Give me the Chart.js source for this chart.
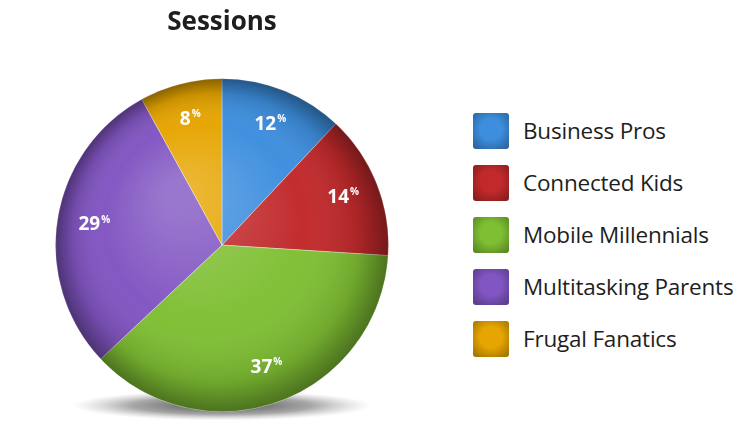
<!DOCTYPE html>
<html>
<head>
<meta charset="utf-8">
<script src="https://cdn.jsdelivr.net/npm/chart.js@4/dist/chart.umd.min.js"></script>
<style>
  body { margin: 0; background: #fff; width: 742px; height: 436px; overflow: hidden; position: relative; }
  #wrap { position: absolute; left: 0; top: 0; width: 444px; height: 436px; }
  #legend { position: absolute; left: 473px; top: 113px; font-family: "Open Sans", sans-serif; }
  .row { height: 52px; display: flex; align-items: flex-start; }
  .box { width: 36px; height: 36px; border-radius: 3px; box-sizing: border-box; }
  .txt { margin-left: 14px; font-size: 22.5px; line-height: 36px; color: #1e1e1e; letter-spacing: -0.2px; }
</style>
</head>
<body>
<div id="wrap"><canvas id="myChart" width="444" height="436"></canvas></div>
<div id="legend"></div>
<script>
let labels = ['Business Pros', 'Connected Kids', 'Mobile Millennials', 'Multitasking Parents', 'Frugal Fanatics'];
let values = [12, 14, 37, 29, 8];
let colors = ['#3d8ede', '#c1292b', '#7fbf33', '#8155c2', '#e6a500'];

// legend on the right
let legend = document.getElementById('legend');
labels.forEach(function (l, i) {
    let row = document.createElement('div');
    row.className = 'row';
    row.innerHTML = '<div class="box" style="background: radial-gradient(circle at 50% 45%, ' + colors[i] +
        ' 40%, rgba(0,0,0,0.4) 110%), ' + colors[i] + ';"></div><div class="txt">' + l + '</div>';
    legend.appendChild(row);
});

// soft shadow under the pie
let shadow = {
    id: 'shadow',
    beforeDatasetsDraw(chart) {
        let arc = chart.getDatasetMeta(0).data[0];
        let ctx = chart.ctx;
        ctx.save();
        ctx.translate(arc.x, arc.y + arc.outerRadius - 6);
        ctx.scale(1, 0.1);
        let g = ctx.createRadialGradient(0, 0, 0, 0, 0, arc.outerRadius * 0.9);
        g.addColorStop(0, 'rgba(40,40,40,0.85)');
        g.addColorStop(0.6, 'rgba(80,80,80,0.5)');
        g.addColorStop(1, 'rgba(150,150,150,0)');
        ctx.fillStyle = g;
        ctx.beginPath();
        ctx.arc(0, 0, arc.outerRadius * 0.9, 0, Math.PI * 2);
        ctx.fill();
        ctx.restore();
    }
};

// glossy shading + percent labels
let gloss = {
    id: 'gloss',
    afterDatasetsDraw(chart) {
        let meta = chart.getDatasetMeta(0);
        let arc = meta.data[0];
        let ctx = chart.ctx;
        let R = arc.outerRadius;
        ctx.save();
        let g = ctx.createRadialGradient(arc.x - R * 0.25, arc.y - R * 0.3, R * 0.1, arc.x, arc.y, R);
        g.addColorStop(0, 'rgba(255,255,255,0.2)');
        g.addColorStop(0.55, 'rgba(255,255,255,0.02)');
        g.addColorStop(0.85, 'rgba(0,0,0,0.12)');
        g.addColorStop(1, 'rgba(0,0,0,0.4)');
        ctx.fillStyle = g;
        ctx.beginPath();
        ctx.arc(arc.x, arc.y, R, 0, Math.PI * 2);
        ctx.fill();

        ctx.fillStyle = '#fff';
        ctx.textBaseline = 'middle';
        meta.data.forEach(function (el, i) {
            let mid = (el.startAngle + el.endAngle) / 2;
            let x = el.x + Math.cos(mid) * R * 0.78;
            let y = el.y + Math.sin(mid) * R * 0.78;
            let big = String(values[i]);
            ctx.font = 'bold 19px "Open Sans", sans-serif';
            let w1 = ctx.measureText(big).width;
            ctx.font = 'bold 10px "Open Sans", sans-serif';
            let w2 = ctx.measureText('%').width;
            let x0 = x - (w1 + w2) / 2;
            ctx.font = 'bold 19px "Open Sans", sans-serif';
            ctx.textAlign = 'left';
            ctx.fillText(big, x0, y);
            ctx.font = 'bold 10px "Open Sans", sans-serif';
            ctx.fillText('%', x0 + w1 + 1, y - 5);
        });
        ctx.restore();
    }
};

let ctx = document.getElementById('myChart').getContext('2d');
let chart1 = new Chart(ctx, {
    type: 'pie',
    data: {
        labels: labels,
        datasets: [{
            data: values,
            backgroundColor: colors,
            borderColor: 'rgba(255,255,255,0.35)',
            borderWidth: 1
        }]
    },
    options: {
        responsive: false,
        animation: false,
        layout: { padding: { left: 54, right: 54, top: 0, bottom: 24 } },
        plugins: {
            legend: { display: false },
            tooltip: { enabled: false },
            title: {
                display: true,
                text: 'Sessions',
                color: '#1e1e1e',
                font: { family: '"Open Sans", sans-serif', size: 26, weight: 'bold', lineHeight: 1.2 },
                padding: { top: 7, bottom: 40 }
            }
        }
    },
    plugins: [shadow, gloss]
});
</script>
</body>
</html>
